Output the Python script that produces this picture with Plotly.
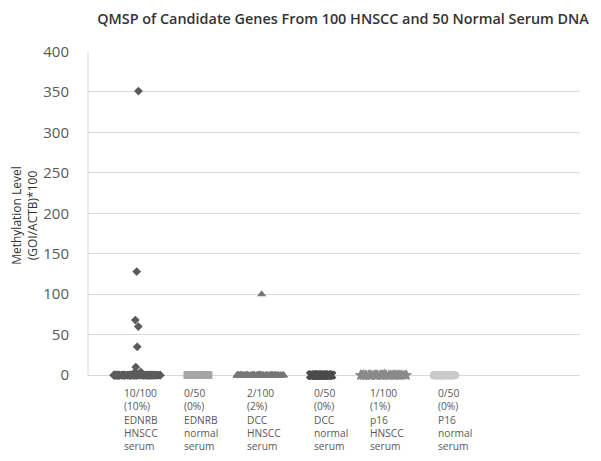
import plotly.graph_objects as go

# ---------------- data ----------------
categories = ["EDNRB HNSCC serum", "EDNRB normal serum", "DCC HNSCC serum",
              "DCC normal serum", "p16 HNSCC serum", "P16 normal serum"]
cat_pos = [1, 2, 3, 4, 5, 6]
tick_labels = [
    ["10/100", "(10%)", "EDNRB", "HNSCC", "serum"],
    ["0/50", "(0%)", "EDNRB", "normal", "serum"],
    ["2/100", "(2%)", "DCC", "HNSCC", "serum"],
    ["0/50", "(0%)", "DCC", "normal", "serum"],
    ["1/100", "(1%)", "p16", "HNSCC", "serum"],
    ["0/50", "(0%)", "P16", "normal", "serum"],
]
ednrb_hnscc = [351, 128, 68, 60, 35, 10, 4, 3, 2, 1] + [0] * 90
ednrb_normal = [0] * 50
dcc_hnscc = [100, 1] + [0] * 98
dcc_normal = [0] * 50
p16_hnscc = [2] + [0] * 99
p16_normal = [0] * 50
series = [ednrb_hnscc, ednrb_normal, dcc_hnscc, dcc_normal, p16_hnscc, p16_normal]
y_ticks = [0, 50, 100, 150, 200, 250, 300, 350, 400]

# ---------------- style ----------------
symbols = ["diamond", "square", "triangle-up", "x", "star", "circle"]
colors = ["#5b5b5b", "#a6a6a6", "#767676", "#4b4b4b", "#8a8a8a", "#c9c9c9"]
sizes = [6.8, 7.5, 8, 8, 8, 8]
widths = [0.76, 0.37, 0.76, 0.37, 0.76, 0.37]
label_shift = [-15, -17, -15, -10, -15, -9]

fig = go.Figure()
for i, vals in enumerate(series):
    fig.add_trace(go.Box(
        y=vals, x0=cat_pos[i], name=categories[i],
        boxpoints="all", jitter=1, pointpos=0, width=widths[i],
        fillcolor="rgba(0,0,0,0)", line=dict(color="rgba(0,0,0,0)", width=0),
        marker=dict(symbol=symbols[i], color=colors[i], size=sizes[i],
                    line=dict(width=0)),
        hoveron="points", showlegend=False,
    ))

for i, lines in enumerate(tick_labels):
    fig.add_annotation(
        x=cat_pos[i], xref="x", y=0, yref="paper", yanchor="top", yshift=-4,
        xanchor="left", xshift=label_shift[i], align="left", showarrow=False,
        text="<br>".join(lines),
        font=dict(family="Open Sans", size=10.2, color="#595959"),
    )

# vertical axis line from 0 to 400
fig.add_shape(type="line", xref="paper", x0=0, x1=0, yref="y", y0=0, y1=400,
              line=dict(color="#d9d9d9", width=1))

fig.update_layout(
    width=593, height=453,
    margin=dict(l=80, r=21, t=43, b=81),
    paper_bgcolor="white", plot_bgcolor="white",
    title=dict(text="QMSP of Candidate Genes From 100 HNSCC and 50 Normal Serum DNA",
               x=0.565, xanchor="center", xref="container",
               y=0.976, yanchor="middle", yref="container",
               font=dict(family="Open Sans", size=14.4, color="#333333", weight=600)),
    xaxis=dict(range=[0.205, 8.19], showticklabels=False, showgrid=False,
               zeroline=False, showline=False),
    yaxis=dict(range=[-6, 400.5], tickvals=y_ticks, showgrid=True, automargin=False,
               gridcolor="#d9d9d9", gridwidth=1, zeroline=False, showline=False,
               tickfont=dict(family="Open Sans", size=15, color="#595959"),
               ticks="outside", ticklen=15, tickcolor="rgba(0,0,0,0)",
               title=dict(text="Methylation Level<br>(GOI/ACTB)*100", standoff=4,
                          font=dict(family="Open Sans", size=12, color="#333333"))),
)

fig.write_html("out.html")
